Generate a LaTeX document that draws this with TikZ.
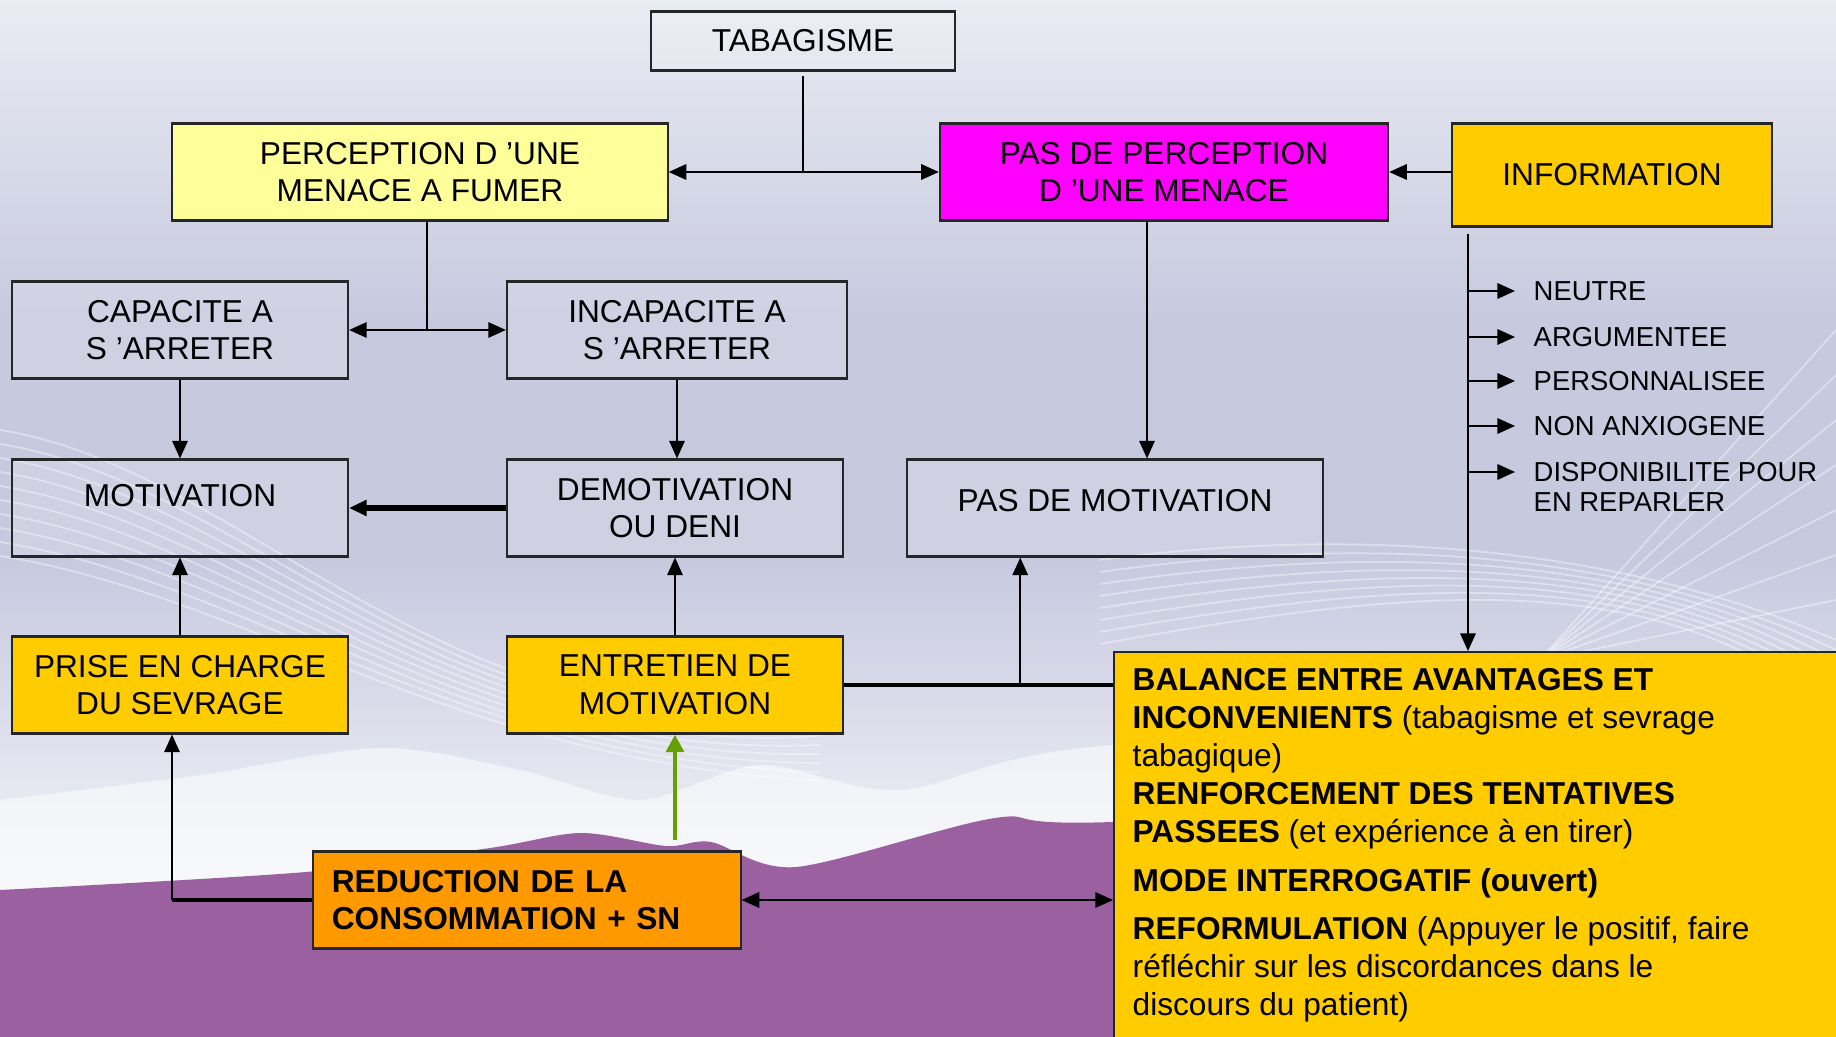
\documentclass[tikz,border=0pt]{standalone}
\usepackage{fontspec}
\setmainfont{Liberation Sans}
\usetikzlibrary{arrows.meta,positioning}
\definecolor{bgtop}{HTML}{E9ECF3}
\definecolor{bgmid}{HTML}{C7C9DF}
\definecolor{bglow}{HTML}{EEF0F6}
\definecolor{chill}{HTML}{9A60A0}
\definecolor{cyellow}{HTML}{FFFF99}
\definecolor{cmagenta}{HTML}{FF00FF}
\definecolor{cgold}{HTML}{FFCC00}
\definecolor{corange}{HTML}{FF9900}
\definecolor{cgreen}{HTML}{66A000}

\tikzset{
  box/.style={draw=black!85, line width=0.6pt, minimum height=0.97cm, align=center,
    inner sep=2pt, font=\fontsize{9}{10.7}\selectfont},
  plainbox/.style={box, fill=white, fill opacity=0.15, text opacity=1},
  menacebox/.style={box, fill=cyellow},
  nomenacebox/.style={box, fill=cmagenta},
  goldbox/.style={box, fill=cgold},
  reducbox/.style={box, fill=corange, font=\fontsize{9}{10.7}\selectfont\bfseries},
  item/.style={inner sep=0pt, anchor=west, font=\fontsize{7.8}{9}\selectfont},
  tip/.style={-{Triangle[length=5pt,width=4.4pt]}},
  arr/.style={tip, line width=0.5pt},
  dbl/.style={{Triangle[length=5pt,width=4.4pt]}-{Triangle[length=5pt,width=4.4pt]}, line width=0.5pt},
  link/.style={line width=0.5pt},
  wave/.style={white, opacity=0.4, line width=0.5pt},
}

\begin{document}
\begin{tikzpicture}[x=0.01cm, y=-0.01cm]
  \useasboundingbox (0,0) rectangle (1836,1037);
  \clip (0,0) rectangle (1836,1037);

  % background
  \fill[bgmid] (0,0) rectangle (1836,1037);
  \shade[top color=bgtop, bottom color=bgmid] (0,0) rectangle (1836,320);
  \shade[top color=bgmid, bottom color=bglow] (0,560) rectangle (1836,860);
  \fill[bglow] (0,859) rectangle (1836,1037);
  \foreach \k in {0,...,9}
    \draw[wave] (0,430+\k*14) .. controls (250,470+\k*14) and (450,760) .. (820,700+\k*9);
  \foreach \k in {0,...,7}
    \draw[wave] (1100,560+\k*12) .. controls (1400,520+\k*10) and (1650,560) .. (1836,640+\k*10);
  \foreach \k in {0,...,6}
    \draw[wave] (1540,660) -- (1836,330+\k*45);
  \fill[white, opacity=0.55] plot[smooth] coordinates {(0,800) (200,775) (380,748)
    (520,770) (640,800) (760,765) (900,790) (1113,745) (1836,720)}
    -- (1836,1037) -- (0,1037) -- cycle;
  \fill[chill] plot[smooth] coordinates {(0,890) (306,872) (490,848) (581,833)
    (666,846) (711,842) (796,867) (995,818) (1113,822) (1836,790)}
    -- (1836,1037) -- (0,1037) -- cycle;

  % boxes
  \node[plainbox, minimum width=3.03cm, minimum height=0.59cm] (tabac) at (803,41) {TABAGISME};
  \node[menacebox, minimum width=4.95cm] (menace) at (420,172) {PERCEPTION D 'UNE\\MENACE A FUMER};
  \node[nomenacebox, minimum width=4.48cm] (nomenace) at (1164,172) {PAS DE PERCEPTION\\D 'UNE MENACE};
  \node[goldbox, minimum width=3.2cm, minimum height=1.03cm] (info) at (1612,175) {INFORMATION};
  \node[plainbox, minimum width=3.36cm] (capa) at (180,330) {CAPACITE A\\S 'ARRETER};
  \node[plainbox, minimum width=3.4cm] (incapa) at (677,330) {INCAPACITE A\\S 'ARRETER};
  \node[plainbox, minimum width=3.36cm, text depth=0.25cm] (motiv) at (180,508) {MOTIVATION};
  \node[plainbox, minimum width=3.36cm] (demotiv) at (675,508) {DEMOTIVATION\\OU DENI};
  \node[plainbox, minimum width=4.16cm, text depth=0.15cm] (nomotiv) at (1115,508) {PAS DE MOTIVATION};
  \node[goldbox, minimum width=3.36cm] (prise) at (180,685) {PRISE EN CHARGE\\DU SEVRAGE};
  \node[goldbox, minimum width=3.36cm] (entretien) at (675,685) {ENTRETIEN DE\\MOTIVATION};
  \node[reducbox, minimum width=4.27cm, text width=3.9cm, align=left] (reduc) at (527,900)
    {REDUCTION DE LA\\CONSOMMATION + SN};
  \node[goldbox, anchor=north west, minimum width=7.6cm, minimum height=4.3cm] (balance) at (1113,651) {};
  \node[anchor=north west, align=left, inner sep=0pt, font=\fontsize{9}{10.8}\selectfont]
    (balancetext) at (1132,668) {%
    \textbf{BALANCE ENTRE AVANTAGES ET}\\
    \textbf{INCONVENIENTS} (tabagisme et sevrage\\
    tabagique)\\
    \textbf{RENFORCEMENT DES TENTATIVES}\\
    \textbf{PASSEES} (et expérience à en tirer)\\[3pt]
    \textbf{MODE INTERROGATIF (ouvert)}\\[3pt]
    \textbf{REFORMULATION} (Appuyer le positif, faire\\
    réfléchir sur les discordances dans le\\
    discours du patient)};

  % information list
  \coordinate (infotop) at (1468,234);
  \node[item] (neutre) at (1533,291) {NEUTRE};
  \node[item] (argu) at (1533,337) {ARGUMENTEE};
  \node[item] (perso) at (1533,381) {PERSONNALISEE};
  \node[item] (anxio) at (1533,426) {NON ANXIOGENE};
  \node[item] (dispo) at (1533,472) {DISPONIBILITE POUR};
  \node[item, anchor=north west] (reparler) at ([yshift=-0.1cm]dispo.south west) {EN REPARLER};

  % connectors
  \coordinate (jtabac) at (tabac |- menace);
  \draw[link] ([yshift=-0.04cm]tabac.south) -- (jtabac);
  \draw[dbl] (menace.east) -- (nomenace.east -| nomenace.west);
  \coordinate (jmenace) at ([xshift=0.07cm]menace.south |- capa);
  \draw[link] ([xshift=0.07cm]menace.south) -- (jmenace);
  \draw[dbl] (capa.east) -- (incapa.west);
  \draw[arr] (capa) -- (motiv);
  \draw[arr] (incapa.south) -- (incapa.south |- demotiv.north);
  \draw[arr] ([xshift=-0.17cm]nomenace.south) -- ([xshift=-0.17cm]nomenace.south |- nomotiv.north);
  \draw[arr] (info.west |- nomenace.east) -- (nomenace.east);
  \draw[tip, line width=1.6pt] (demotiv.west) -- (motiv.east);
  \draw[arr] (prise) -- (motiv);
  \draw[arr] (entretien) -- (demotiv);
  \draw[line width=1pt] (entretien.east) -- (balance.west |- entretien.east)
    coordinate[pos=0.655] (jentretien);
  \draw[arr] (jentretien) -- (jentretien |- nomotiv.south);
  \draw[cgreen, line width=1.3pt, -{Triangle[length=5pt,width=5pt]}]
    ([yshift=0.1cm]reduc.north -| entretien.south) -- (entretien.south);
  \coordinate (jreduc) at ([xshift=-0.08cm]prise.south |- reduc.west);
  \draw[line width=1pt] (reduc.west) -- (jreduc);
  \draw[arr] (jreduc) -- ([xshift=-0.08cm]prise.south);
  \draw[dbl] (reduc.east) -- (balance.west |- reduc.east);
  \draw[arr] (infotop) -- (infotop |- balance.north);
  \draw[arr] (infotop |- neutre.west) -- ([xshift=-0.18cm]neutre.west);
  \draw[arr] (infotop |- argu.west) -- ([xshift=-0.18cm]argu.west);
  \draw[arr] (infotop |- perso.west) -- ([xshift=-0.18cm]perso.west);
  \draw[arr] (infotop |- anxio.west) -- ([xshift=-0.18cm]anxio.west);
  \draw[arr] (infotop |- dispo.west) -- ([xshift=-0.18cm]dispo.west);
\end{tikzpicture}
\end{document}
